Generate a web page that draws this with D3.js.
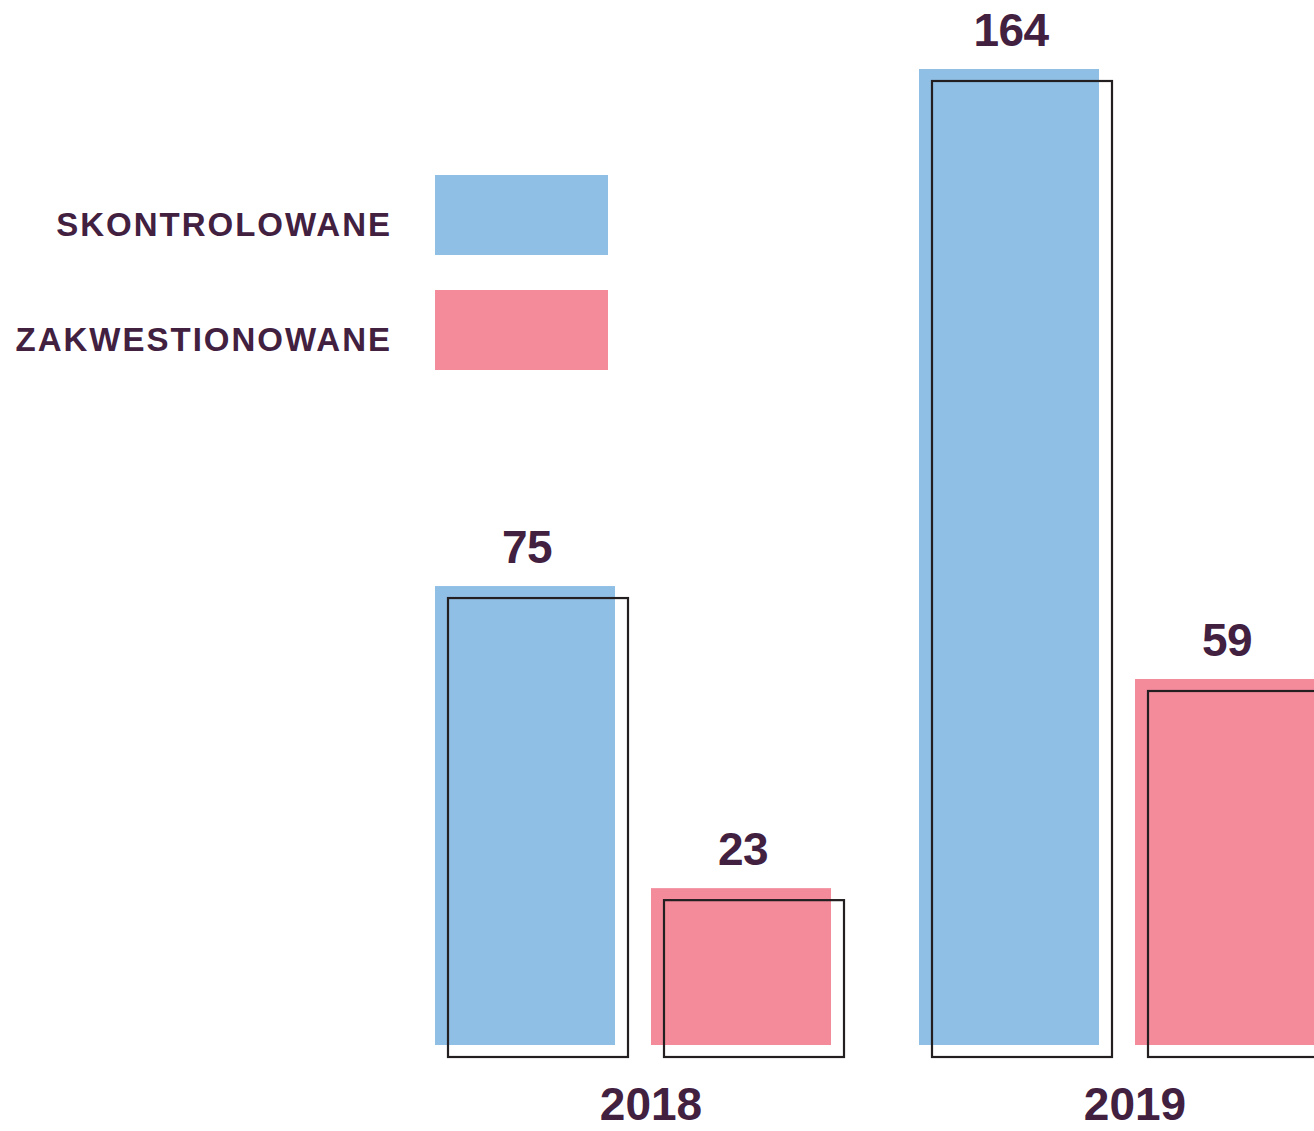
<!DOCTYPE html>
<html>
<head>
<meta charset="utf-8">
<script src="https://cdn.jsdelivr.net/npm/d3@7"></script>
<style>
  html, body { margin: 0; padding: 0; background: #fff; }
  svg { display: block; }
  text { font-family: "Liberation Sans", Arial, sans-serif; font-weight: 700; fill: #42203f; }
</style>
</head>
<body>
<div id="chart"></div>
<script>
//Size of the picture.
let w = 1314
let h = 1131

//Chart data.
let years = ["2018", "2019"]
let series = ["SKONTROLOWANE", "ZAKWESTIONOWANE"]
let skontrolowane = [75, 164]
let zakwestionowane = [23, 59]

//Colors for each series.
let seriesColors = ["#90bfe6", "#f38b9b"]

//Flattened rows, one per bar.
let rows = []
years.forEach((y, i) => {
  rows.push({year: y, key: series[0], value: skontrolowane[i]})
  rows.push({year: y, key: series[1], value: zakwestionowane[i]})
})

const svg = d3.select("#chart")
              .append("svg")
              .attr("width", w)
              .attr("height", h)

//Scales for groups, bars in group and height.
let x0 = d3.scaleBand()
           .domain(years)
           .range([435, 1315])
           .paddingInner(88 / 484)
           .paddingOuter(0)

let x1 = d3.scaleBand()
           .domain(series)
           .range([0, x0.bandwidth()])
           .paddingInner(36 / 216)
           .paddingOuter(0)

let y = d3.scaleLinear()
          .domain([-4, 164])
          .range([1045, 69])

let color = d3.scaleOrdinal().domain(series).range(seriesColors)

//Offset of the black outline frame behind each bar.
let offX = 13
let offY = 12

const bars = svg.append("g")
                .selectAll("g")
                .data(rows)
                .enter()
                .append("g")
                .attr("transform", d => "translate(" + (x0(d.year) + x1(d.key)) + ",0)")

bars.append("rect")
    .attr("x", 0)
    .attr("y", d => y(d.value))
    .attr("width", x1.bandwidth())
    .attr("height", d => y(-4) - y(d.value))
    .attr("fill", d => color(d.key))

bars.append("rect")
    .attr("x", offX)
    .attr("y", d => y(d.value) + offY)
    .attr("width", x1.bandwidth())
    .attr("height", d => y(-4) - y(d.value))
    .attr("fill", "none")
    .attr("stroke", "#231f20")
    .attr("stroke-width", 2.2)

//Value labels over the bars.
bars.append("text")
    .attr("x", x1.bandwidth() / 2 + 2)
    .attr("y", d => y(d.value) - 23)
    .attr("text-anchor", "middle")
    .attr("font-size", 46)
    .attr("letter-spacing", -0.5)
    .text(d => d.value)

//Year labels under each group.
svg.append("g")
   .selectAll("text")
   .data(years)
   .enter()
   .append("text")
   .attr("x", d => x0(d) + x0.bandwidth() / 2 + 18)
   .attr("y", 1120)
   .attr("text-anchor", "middle")
   .attr("font-size", 46)
   .text(d => d)

//Legend on the left.
const legend = svg.append("g")
                  .selectAll("g")
                  .data(series)
                  .enter()
                  .append("g")
                  .attr("transform", (d, i) => "translate(0," + (175 + i * 115) + ")")

legend.append("rect")
      .attr("x", 435)
      .attr("width", 173)
      .attr("height", 80)
      .attr("fill", d => color(d))

legend.append("text")
      .attr("x", 392)
      .attr("y", 61)
      .attr("text-anchor", "end")
      .attr("font-size", 33)
      .attr("letter-spacing", 2)
      .text(d => d)
</script>
</body>
</html>
